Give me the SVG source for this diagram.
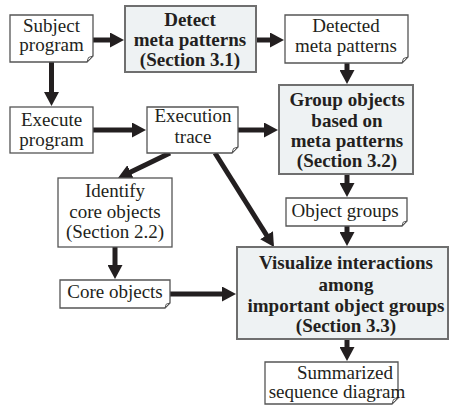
<svg xmlns="http://www.w3.org/2000/svg" width="449" height="405" viewBox="0 0 449 405">
<defs>
<marker id="ah" markerUnits="userSpaceOnUse" markerWidth="14" markerHeight="15" refX="1" refY="7.5" orient="auto">
<path d="M0,0 L14,7.5 L0,15 Z" fill="#231f20"/>
</marker>
</defs>
<style>
.doc{fill:#fff;stroke:#555;stroke-width:1.3}
.proc{fill:#fff;stroke:#555;stroke-width:1.3}
.key{fill:#eef2f3;stroke:#6f6f6f;stroke-width:2}
.fold{fill:#fff;stroke:#555;stroke-width:1}
text{font-family:"Liberation Serif","Times New Roman",serif;font-size:19px;fill:#231f20;text-anchor:middle}
.b{font-weight:bold}
.c line{stroke:#231f20;stroke-width:5;marker-end:url(#ah)}
</style>
<rect width="449" height="405" fill="#fff"/>
<g class="c" id="connectors">
<line x1="93" y1="40" x2="111" y2="40"/>
<line x1="51.5" y1="62" x2="51.5" y2="93"/>
<line x1="256" y1="40" x2="271" y2="40"/>
<line x1="347" y1="63" x2="347" y2="71"/>
<line x1="93" y1="130" x2="133" y2="130"/>
<line x1="238" y1="130" x2="265" y2="130"/>
<line x1="170" y1="153" x2="129.7" y2="172.4"/>
<line x1="215" y1="153" x2="267.1" y2="236"/>
<line x1="347" y1="174" x2="347" y2="184"/>
<line x1="347" y1="226" x2="347" y2="233"/>
<line x1="115" y1="247" x2="115" y2="266"/>
<line x1="170" y1="294" x2="223" y2="294"/>
<line x1="347" y1="339" x2="347" y2="348"/>
</g>
<g id="subject-program">
<path class="doc" d="M10,15 H93 V56 L87,62 H10 Z"/>
<path class="fold" d="M93,56 L87,62 L88.5,57.5 Z"/>
<text x="51.5" y="32">Subject</text>
<text x="51.5" y="51">program</text>
</g>
<g id="detect-meta-patterns">
<rect class="key" x="125" y="6" width="131" height="66"/>
<text class="b" x="190" y="26">Detect</text>
<text class="b" x="190" y="46">meta patterns</text>
<text class="b" x="190" y="66">(Section 3.1)</text>
</g>
<g id="detected-meta-patterns">
<path class="doc" d="M285,15 H408 V57 L402,63 H285 Z"/>
<path class="fold" d="M408,57 L402,63 L403.5,58.5 Z"/>
<text x="346" y="32">Detected</text>
<text x="346" y="52">meta patterns</text>
</g>
<g id="group-objects">
<rect class="key" x="279" y="85" width="134" height="89"/>
<text class="b" x="347" y="106">Group objects</text>
<text class="b" x="347" y="126.5">based on</text>
<text class="b" x="347" y="147">meta patterns</text>
<text class="b" x="347" y="167">(Section 3.2)</text>
</g>
<g id="execute-program">
<rect class="proc" x="10" y="107" width="83" height="46"/>
<text x="51.5" y="126">Execute</text>
<text x="51.5" y="146">program</text>
</g>
<g id="execution-trace">
<path class="doc" d="M147,107 H238 V147 L232,153 H147 Z"/>
<path class="fold" d="M238,147 L232,153 L233.5,148.5 Z"/>
<text x="193" y="122">Execution</text>
<text x="193" y="143">trace</text>
</g>
<g id="identify-core-objects">
<rect class="proc" x="58" y="178" width="114" height="69"/>
<text x="115" y="197">Identify</text>
<text x="115" y="218">core objects</text>
<text x="115" y="238">(Section 2.2)</text>
</g>
<g id="object-groups">
<path class="doc" d="M286,198 H407 V221 L402,226 H286 Z"/>
<path class="fold" d="M407,221 L402,226 L403.2,222.2 Z"/>
<text x="345" y="217">Object groups</text>
</g>
<g id="core-objects">
<path class="doc" d="M60,280 H170 V303 L165,308 H60 Z"/>
<path class="fold" d="M170,303 L165,308 L166.2,304.2 Z"/>
<text x="115" y="298">Core objects</text>
</g>
<g id="visualize-interactions">
<rect class="key" x="237" y="247" width="211" height="92"/>
<text class="b" x="346" y="269">Visualize interactions</text>
<text class="b" x="346" y="291">among</text>
<text class="b" x="346" y="312">important object groups</text>
<text class="b" x="346" y="332">(Section 3.3)</text>
</g>
<g id="summarized-sequence-diagram">
<path class="doc" d="M265,362 H398 V398 L392,404 H265 Z"/>
<path class="fold" d="M398,398 L392,404 L393.5,399.5 Z"/>
<text x="345" y="379">Summarized</text>
<text x="337" y="398">sequence diagram</text>
</g>
</svg>
